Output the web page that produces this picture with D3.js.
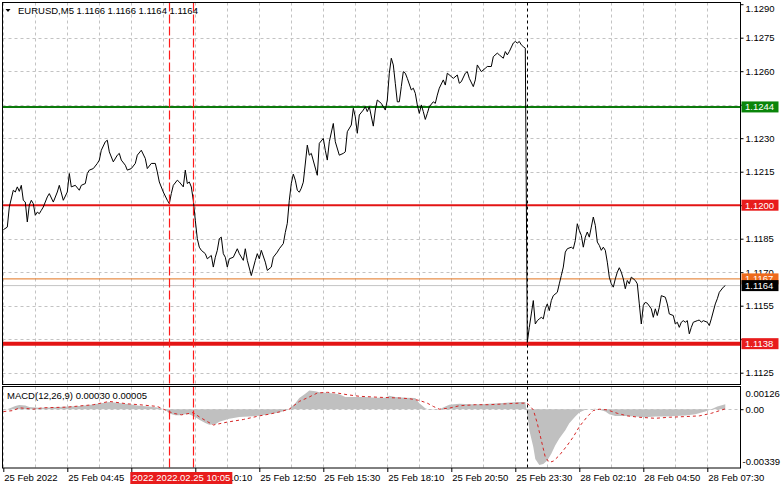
<!DOCTYPE html>
<html><head><meta charset="utf-8">
<script src="https://cdn.jsdelivr.net/npm/d3@7"></script>
<style>
html,body{margin:0;padding:0;background:#fff;}
svg{display:block;}
text{font-family:"Liberation Sans",Arial,sans-serif;}
</style>
</head><body>
<svg id="c" width="781" height="489"></svg>
<script>
// ---------------- DATA ----------------
const symbol = "EURUSD,M5";
const ohlc = ["1.1166", "1.1166", "1.1164", "1.1164"];
const macdName = "MACD(12,26,9)";
const macdLast = ["0.00030", "0.00005"];

// time axis: a label every 32 bars (M5); "" = label hidden under the marker box
const timeLabels = ["25 Feb 2022","25 Feb 04:45","","25 Feb 10:10","25 Feb 12:50",
  "25 Feb 15:30","25 Feb 18:10","25 Feb 20:50","25 Feb 23:30","28 Feb 02:10","28 Feb 04:50","28 Feb 07:30"];
const priceTicks = [1.1125,1.1140,1.1155,1.1170,1.1185,1.1200,1.1215,1.1230,1.1245,1.1260,1.1275,1.1290];
const hiddenPriceTicks = [1.1140, 1.1200, 1.1245];
const macdTicks = [0.00126, 0.00, -0.00339];

// horizontal levels
const levelPrices = [1.1244, 1.1200, 1.1167, 1.1138, 1.1164];
const levelLabels = ["1.1244", "1.1200", "1.1167", "1.1138", "1.1164"];

// vertical marker lines (bar index) and their time labels
const markerBars = [83, 95];
const markerLabels = ["2022.02.25 09:05", "2022.02.25 10:05"];
const separatorBar = 262;

// close prices: [bar index, close]
const closes = [[0,1.11890],[2,1.11902],[3,1.11992],[5,1.12067],[6,1.12059],[7,1.12082],[8,1.12062],[9,1.12089],[10,1.12022],[11,1.12014],[12,1.11925],[13,1.12000],[14,1.12022],[15,1.12007],[16,1.11955],[17,1.11969],[18,1.11962],[19,1.11977],[20,1.11992],[22,1.12037],[23,1.12052],[25,1.12014],[27,1.12059],[28,1.12089],[30,1.12022],[32,1.12059],[33,1.12142],[34,1.12082],[36,1.12089],[38,1.12067],[39,1.12089],[41,1.12097],[42,1.12142],[43,1.12157],[45,1.12164],[47,1.12187],[48,1.12202],[49,1.12246],[51,1.12284],[52,1.12291],[53,1.12239],[55,1.12194],[57,1.12224],[58,1.12232],[59,1.12202],[61,1.12179],[62,1.12157],[64,1.12164],[66,1.12187],[67,1.12224],[69,1.12246],[71,1.12209],[72,1.12164],[74,1.12187],[76,1.12187],[77,1.12149],[78,1.12104],[80,1.12059],[82,1.12022],[83,1.12007],[84,1.12052],[85,1.12089],[87,1.12112],[88,1.12104],[90,1.12082],[91,1.12157],[92,1.12097],[93,1.12104],[94,1.12082],[95,1.12022],[96,1.11932],[97,1.11850],[98,1.11812],[99,1.11798],[101,1.11783],[102,1.11760],[104,1.11775],[105,1.11723],[106,1.11767],[107,1.11798],[108,1.11850],[109,1.11857],[110,1.11783],[111,1.11767],[112,1.11723],[113,1.11760],[115,1.11767],[117,1.11805],[118,1.11783],[120,1.11753],[121,1.11805],[122,1.11753],[124,1.11685],[126,1.11753],[127,1.11783],[128,1.11760],[129,1.11798],[131,1.11745],[132,1.11708],[134,1.11723],[135,1.11767],[137,1.11790],[138,1.11805],[140,1.11828],[141,1.11878],[142,1.11919],[143,1.12022],[144,1.12098],[145,1.12139],[146,1.12112],[147,1.12067],[148,1.12058],[149,1.12076],[150,1.12103],[152,1.12269],[153,1.12224],[154,1.12232],[157,1.12134],[158,1.12277],[160,1.12299],[161,1.12246],[162,1.12202],[163,1.12284],[165,1.12366],[166,1.12284],[168,1.12224],[170,1.12232],[171,1.12239],[172,1.12329],[174,1.12359],[175,1.12434],[176,1.12396],[177,1.12322],[178,1.12404],[180,1.12426],[181,1.12441],[182,1.12419],[183,1.12441],[185,1.12354],[186,1.12426],[187,1.12471],[189,1.12456],[190,1.12441],[191,1.12426],[192,1.12471],[193,1.12591],[194,1.12658],[195,1.12628],[196,1.12546],[197,1.12463],[198,1.12463],[199,1.12531],[200,1.12598],[201,1.12591],[202,1.12568],[204,1.12516],[205,1.12524],[206,1.12501],[207,1.12449],[208,1.12411],[209,1.12449],[210,1.12419],[211,1.12384],[212,1.12411],[213,1.12441],[215,1.12463],[216,1.12456],[217,1.12493],[218,1.12524],[220,1.12561],[221,1.12538],[222,1.12591],[224,1.12576],[225,1.12568],[227,1.12583],[228,1.12546],[229,1.12553],[231,1.12591],[232,1.12598],[233,1.12568],[235,1.12531],[236,1.12561],[237,1.12628],[238,1.12613],[239,1.12598],[241,1.12613],[242,1.12621],[244,1.12621],[245,1.12665],[247,1.12681],[248,1.12673],[250,1.12658],[251,1.12688],[252,1.12673],[253,1.12688],[255,1.12726],[256,1.12733],[257,1.12726],[258,1.12733],[259,1.12718],[260,1.12710],[261,1.12703],[262,1.11386],[263,1.11453],[264,1.11513],[265,1.11573],[266,1.11468],[267,1.11483],[268,1.11491],[269,1.11498],[270,1.11491],[271,1.11536],[272,1.11558],[273,1.11528],[274,1.11573],[275,1.11595],[277,1.11610],[278,1.11648],[279,1.11685],[280,1.11723],[281,1.11790],[282,1.11805],[284,1.11812],[285,1.11805],[286,1.11842],[287,1.11917],[288,1.11887],[289,1.11865],[290,1.11812],[291,1.11857],[292,1.11880],[293,1.11857],[294,1.11902],[295,1.11947],[296,1.11910],[297,1.11835],[298,1.11820],[299,1.11798],[300,1.11812],[301,1.11798],[302,1.11745],[303,1.11678],[304,1.11648],[305,1.11633],[306,1.11670],[307,1.11700],[308,1.11720],[309,1.11700],[310,1.11670],[311,1.11626],[312,1.11663],[313,1.11648],[314,1.11678],[316,1.11663],[317,1.11648],[318,1.11558],[319,1.11468],[320,1.11551],[321,1.11565],[322,1.11561],[324,1.11536],[325,1.11498],[326,1.11536],[327,1.11506],[328,1.11543],[329,1.11595],[331,1.11588],[332,1.11558],[333,1.11513],[335,1.11506],[336,1.11468],[337,1.11476],[338,1.11453],[339,1.11476],[340,1.11483],[341,1.11476],[342,1.11483],[343,1.11424],[344,1.11453],[345,1.11476],[347,1.11483],[348,1.11486],[349,1.11476],[350,1.11483],[352,1.11476],[353,1.11461],[354,1.11491],[356,1.11558],[357,1.11581],[358,1.11610],[360,1.11633],[361,1.11640]];

// MACD main (histogram): [bar, value]
const macdHist = [[0,-0.00008],[3,0.00004],[6,0.00019],[8,0.00025],[11,0.00022],[13,0.00012],[18,0.00008],[23,0.00010],[28,0.00012],[33,0.00016],[38,0.00018],[43,0.00024],[48,0.00033],[53,0.00041],[58,0.00036],[63,0.00028],[68,0.00020],[73,0.00016],[78,0.00008],[81,-0.00004],[83,-0.00025],[86,-0.00035],[88,-0.00035],[91,-0.00030],[93,-0.00030],[96,-0.00045],[98,-0.00062],[101,-0.00080],[103,-0.00090],[106,-0.00088],[108,-0.00073],[113,-0.00055],[118,-0.00045],[123,-0.00042],[128,-0.00038],[133,-0.00030],[138,-0.00020],[142,-0.00005],[143,0.00002],[146,0.00035],[148,0.00065],[151,0.00090],[153,0.00108],[156,0.00104],[158,0.00098],[163,0.00094],[168,0.00087],[171,0.00071],[176,0.00071],[181,0.00071],[186,0.00067],[191,0.00067],[193,0.00078],[196,0.00071],[201,0.00067],[206,0.00065],[208,0.00035],[211,0.00006],[213,-0.00004],[218,0.00000],[221,0.00016],[223,0.00026],[228,0.00031],[233,0.00029],[238,0.00029],[243,0.00031],[248,0.00035],[253,0.00039],[258,0.00041],[261,0.00041],[262,-0.00033],[263,-0.00122],[265,-0.00220],[266,-0.00289],[268,-0.00324],[270,-0.00318],[272,-0.00299],[274,-0.00259],[276,-0.00210],[278,-0.00171],[281,-0.00122],[283,-0.00082],[286,-0.00043],[288,-0.00020],[291,-0.00004],[293,0.00000],[296,0.00002],[298,-0.00004],[301,-0.00014],[303,-0.00029],[306,-0.00039],[311,-0.00039],[316,-0.00043],[321,-0.00047],[326,-0.00043],[331,-0.00043],[336,-0.00039],[341,-0.00037],[346,-0.00029],[351,-0.00014],[354,0.00000],[357,0.00016],[361,0.00029]];

// MACD signal: [bar, value]
const macdSignal = [[0,-0.00014],[5,-0.00008],[8,0.00008],[15,0.00000],[20,0.00008],[32,0.00012],[45,0.00026],[53,0.00045],[62,0.00031],[68,0.00026],[77,0.00016],[82,-0.00010],[85,-0.00024],[89,-0.00033],[95,-0.00020],[98,-0.00045],[105,-0.00092],[112,-0.00075],[120,-0.00060],[128,-0.00039],[133,-0.00029],[138,-0.00016],[143,0.00000],[148,0.00045],[153,0.00071],[157,0.00094],[162,0.00098],[167,0.00094],[172,0.00084],[178,0.00075],[188,0.00069],[198,0.00065],[203,0.00061],[208,0.00051],[212,0.00035],[215,0.00016],[218,0.00000],[223,0.00006],[228,0.00020],[236,0.00026],[243,0.00026],[251,0.00031],[258,0.00035],[262,0.00035],[265,-0.00004],[267,-0.00082],[269,-0.00181],[271,-0.00279],[273,-0.00309],[275,-0.00302],[278,-0.00269],[282,-0.00210],[285,-0.00161],[288,-0.00102],[292,-0.00043],[295,-0.00008],[298,0.00000],[302,-0.00004],[307,-0.00024],[312,-0.00039],[318,-0.00047],[326,-0.00053],[333,-0.00047],[341,-0.00043],[348,-0.00039],[354,-0.00024],[361,0.00002]];

// ---------------- STYLE / LAYOUT ----------------
const L = 2.5, R = 740.5, mainTop = 2.5, mainBot = 384.5, macdTop = 386.5, macdBot = 468;
const levelStyles = [
  {color:"#0c7a0c", width:2,   box:"#0a850a", text:"#fff"},
  {color:"#e31414", width:2,   box:"#e81c1c", text:"#fff"},
  {color:"#e2741f", width:1,   box:"#ee6a1c", text:"#fff"},
  {color:"#e31414", width:4,   box:"#e81c1c", text:"#fff"},
  {color:"#c4c4c4", width:1,   box:"#000000", text:"#fff"}
];
const gridColor = "#c3c3c3";
const FONT = 9.5;
const FF = "Liberation Sans, Arial, sans-serif";

const svg = d3.select("#c");
const x = d3.scaleLinear().domain([0, 352]).range([3.3, 707.3]);
const y = d3.scaleLinear().domain([1.1125, 1.1290]).range([372.7, 4.2]);
const ym = d3.scaleLinear().domain([-0.00339, 0.00126]).range([467.5, 387.5]);

svg.append("rect").attr("width",781).attr("height",489).attr("fill","#fff");

const defs = svg.append("defs");
defs.append("clipPath").attr("id","clipMain").append("rect")
  .attr("x",L).attr("y",mainTop).attr("width",R-L).attr("height",mainBot-mainTop);
defs.append("clipPath").attr("id","clipMacd").append("rect")
  .attr("x",L).attr("y",macdTop).attr("width",R-L).attr("height",macdBot-macdTop);

const gMain = svg.append("g").attr("clip-path","url(#clipMain)");
const gMacd = svg.append("g").attr("clip-path","url(#clipMacd)");
const panels = [[gMain, mainTop, mainBot],[gMacd, macdTop, macdBot]];

// vertical grid every 16 bars
const vGrid = d3.range(0, 353, 16);
panels.forEach(([g,t,b]) => {
  g.selectAll(null).data(vGrid).enter().append("line")
    .attr("x1", d => Math.round(x(d)) + 0.5).attr("x2", d => Math.round(x(d)) + 0.5)
    .attr("y1", t).attr("y2", b)
    .attr("stroke", gridColor).attr("stroke-dasharray","3,3").attr("stroke-width",1);
});
// horizontal grid
gMain.selectAll(null).data(priceTicks.slice(0, -1)).enter().append("line")
  .attr("x1", L).attr("x2", R)
  .attr("y1", d => Math.round(y(d)) + 0.5).attr("y2", d => Math.round(y(d)) + 0.5)
  .attr("stroke", gridColor).attr("stroke-dasharray","3,3");
gMacd.append("line").attr("x1",L).attr("x2",R)
  .attr("y1", Math.round(ym(0))+0.5).attr("y2", Math.round(ym(0))+0.5)
  .attr("stroke", gridColor).attr("stroke-dasharray","3,3");

// horizontal levels
const levelData = levelPrices.map((p,i) => ({p, label: levelLabels[i], s: levelStyles[i]}));
gMain.selectAll(null).data(levelData).enter().append("line")
  .attr("x1", L).attr("x2", R)
  .attr("y1", d => y(d.p)).attr("y2", d => y(d.p))
  .attr("stroke", d => d.s.color).attr("stroke-width", d => d.s.width);

// price line
const priceLine = d3.line().x(d => x(d[0])).y(d => y(d[1]));
gMain.append("path").datum(closes).attr("d", priceLine)
  .attr("fill","none").attr("stroke","#000").attr("stroke-width",1);

// MACD histogram + signal
const histArea = d3.area().x(d => x(d[0])).y0(ym(0)).y1(d => ym(d[1]));
gMacd.append("path").datum(macdHist).attr("d", histArea).attr("fill","#c0c0c0");
const sigLine = d3.line().x(d => x(d[0])).y(d => ym(d[1]));
gMacd.append("path").datum(macdSignal).attr("d", sigLine)
  .attr("fill","none").attr("stroke","#d42525").attr("stroke-width",1).attr("stroke-dasharray","3,3");

// marker vertical lines (red dashed)
panels.forEach(([g,t,b]) => {
  markerBars.forEach(m => {
    const xx = Math.round(x(m)) + 0.5;
    g.append("line").attr("x1", xx).attr("x2", xx).attr("y1", t).attr("y2", b)
      .style("stroke", "#ff1a1a").style("stroke-width", 1.2).style("stroke-dasharray", "9,3");
  });
});

// separator (black dashed)
panels.forEach(([g,t,b]) => {
  const xx = Math.round(x(separatorBar)) + 0.5;
  g.append("line").attr("x1", xx).attr("x2", xx)
    .attr("y1", t).attr("y2", b).attr("stroke","#000").attr("stroke-width",1).attr("stroke-dasharray","3,3");
});

// header texts
gMain.append("path").attr("d","M5.5,9 L10.5,9 L8,12 Z").attr("fill","#000");
gMain.append("text").attr("x",18).attr("y",14).attr("font-size",FONT).attr("fill","#000")
  .text(symbol + "  " + ohlc.join(" "));
gMacd.append("text").attr("x",7).attr("y",399).attr("font-size",FONT).attr("fill","#000")
  .text(macdName + " " + macdLast.join(" "));

// frames
svg.append("rect").attr("x",L).attr("y",mainTop).attr("width",R-L).attr("height",mainBot-mainTop)
  .attr("fill","none").attr("stroke","#000");
svg.append("rect").attr("x",L).attr("y",macdTop).attr("width",R-L).attr("height",macdBot-macdTop)
  .attr("fill","none").attr("stroke","#000");

// right price axis
const yAxis = d3.axisRight(y).tickValues(priceTicks).tickSize(3).tickPadding(2)
  .tickFormat(d => hiddenPriceTicks.includes(d) ? "" : d3.format(".4f")(d));
const gy = svg.append("g").attr("transform",`translate(${R},0)`).call(yAxis);
gy.select(".domain").remove();
gy.selectAll("text").attr("font-size",FONT).attr("font-family",FF).attr("fill","#000")
  .attr("y", d => y(d) < 8 ? 8 - y(d) : 0);
gy.selectAll("line").attr("stroke","#000");

// MACD axis
const ymAxis = d3.axisRight(ym).tickValues(macdTicks).tickSize(3).tickPadding(2)
  .tickFormat(d => d === 0 ? "0.00" : d3.format(".5f")(d).replace("−","-"));
const gym = svg.append("g").attr("transform",`translate(${R},0)`).call(ymAxis);
gym.select(".domain").remove();
gym.selectAll("text").attr("font-size",FONT).attr("font-family",FF).attr("fill","#000")
  .attr("x", d => d < -0.003 ? 2 : 5)
  .attr("y", d => d > 0.001 ? 6 : (d < -0.003 ? -6 : 0));
gym.selectAll("line").attr("stroke","#000").attr("opacity", d => d === 0 ? 1 : 0);

// price level label boxes
const lbl = svg.append("g");
levelData.forEach(d => {
  const cy = y(d.p);
  lbl.append("rect").attr("x", R+1).attr("y", cy-5.5).attr("width", 37).attr("height", 11).attr("fill", d.s.box);
  lbl.append("text").attr("x", R+4.5).attr("y", cy).attr("dy","0.35em").attr("font-size",FONT)
    .attr("fill", d.s.text).text(d.label);
});

// bottom time axis
const xAxis = d3.axisBottom(x).tickValues(d3.range(0, 353, 32)).tickSize(4).tickPadding(2)
  .tickFormat((d,i) => timeLabels[i]);
const gx = svg.append("g").attr("transform",`translate(0,${macdBot})`).call(xAxis);
gx.select(".domain").remove();
gx.selectAll("line").attr("stroke","#000");
gx.selectAll("text").attr("font-size",FONT).attr("font-family",FF)
  .attr("fill","#000").attr("text-anchor","start").attr("dx","0.5");

// marker time labels (red boxes)
markerBars.forEach((b,i) => {
  const cx = x(b);
  const w = 78;
  svg.append("rect").attr("x", cx - w/2).attr("y", 472).attr("width", w).attr("height", 12).attr("fill","#e81c1c");
  svg.append("text").attr("x", cx).attr("y", 478).attr("dy","0.35em").attr("text-anchor","middle")
    .attr("font-size",FONT).attr("fill","#fff").text(markerLabels[i]);
});
</script>
</body></html>
